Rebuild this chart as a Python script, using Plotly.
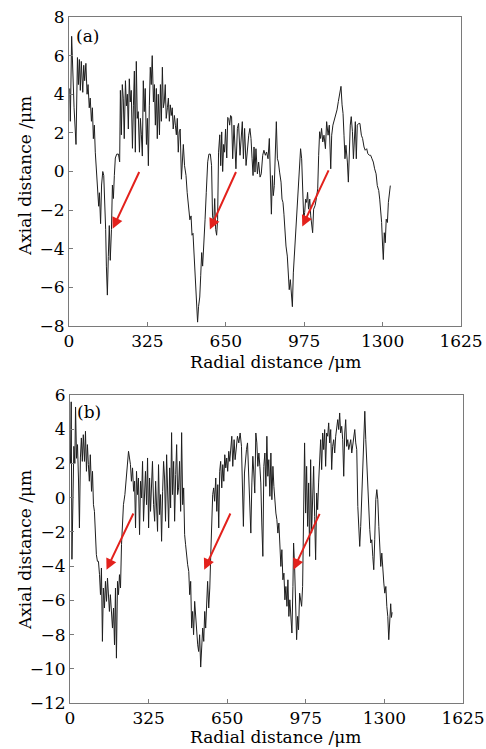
import plotly.graph_objects as go

# ---------------- data ----------------
x_ticks = [0, 325, 650, 975, 1300, 1625]
x_tick_text = ["0", "325", "650", "975", "1300", "1625"]
top_y_ticks = [-8, -6, -4, -2, 0, 2, 4, 6, 8]
bot_y_ticks = [-12, -10, -8, -6, -4, -2, 0, 2, 4, 6]

# panel (a): radial distance (um) and axial distance (um)
top_x_a = [3, 5.5, 11, 15, 21, 29, 35, 39, 43, 47,
           51, 57, 61, 65, 70, 75, 79, 84, 88, 93,
           97, 101, 105, 109, 115, 119, 123, 126, 128, 131,
           135, 140, 144, 148, 152, 155, 159, 163, 167, 171,
           176, 180, 184, 188, 192, 198, 205, 210, 213, 217,
           221, 225, 229, 234, 238, 242, 246, 250, 254, 258,
           263, 267, 271, 275, 279, 283, 287, 292, 296, 300,
           304, 308, 312, 316, 321, 325, 329, 333, 337, 341,
           345, 350, 354, 358, 362, 366, 370, 375, 379, 383,
           387, 391, 395, 399, 403, 408, 412, 416, 420, 424,
           428, 432, 437, 441, 445, 449, 453, 457, 461, 466,
           470, 474, 479, 485, 490, 496, 501, 506, 510, 514,
           518, 522, 526, 529, 533, 537, 542, 546, 550, 554,
           558, 564, 569, 575, 580, 586, 591, 595, 600, 604,
           608, 612, 616, 620, 625, 629, 633, 637, 641, 645,
           649, 654, 658, 662, 666, 670]
top_y_a = [4.3, 2.6, 7.0, 5.4, 3.3, 1.4, 5.9, 4.5, 5.8, 4.2,
           5.7, 4.1, 5.5, 4.7, 5.6, 4.0, 4.5, 3.3, 3.8, 2.6,
           3.3, 1.7, 2.4, 1.0, 0.0, -0.7, -1.8, -1.1, -2.5, -2.7,
           -0.7, 0.0, -0.2, -1.4, -3.0, -4.9, -6.4, -4.4, -2.8, -4.6,
           -3.0, -0.7, -1.4, -0.2, 0.7, 0.9, 0.9, 0.5, 4.2, 1.9,
           4.5, 3.8, 1.7, 4.7, 3.4, 4.0, 2.2, 4.8, 3.6, 4.2,
           1.2, 3.4, 5.2, 1.0, 5.7, 2.75, 3.1, 1.0, 2.75, 1.9,
           0.8, 4.7, 3.1, 4.3, 1.4, 2.75, 0.3, 3.4, 5.4, 4.5,
           6.0, 3.6, 4.5, 2.4, 4.3, 1.7, 4.0, 1.9, 4.5, 2.6,
           5.4, 3.3, 3.6, 4.5, 2.75, 3.3, 3.8, 2.6, 3.45, 2.9,
           3.3, 2.2, 2.9, 2.4, 1.9, 2.75, 1.0, 2.05, 2.2, -0.4,
           0.8, 1.4, 0.3, -0.2, -1.1, -1.8, -2.5, -2.3, -3.3, -3.2,
           -4.2, -4.6, -5.6, -7.0, -7.8, -7.0, -6.5, -5.4, -4.2, -4.9,
           -3.5, -2.5, -1.1, 0.5, 0.9, 0.9, 0.3, -2.3, -2.65, -1.4,
           -3.0, -3.3, -2.5, 1.0, 1.9, 0.3, 2.05, 0.0, 1.4, 1.0,
           2.2, 0.7, 2.8, 2.75, 2.4, 2.9]

top_x_b = [674, 678.5, 684, 688, 692, 698, 703, 709, 714, 718.5,
           723, 728, 734, 739, 745, 750, 754.5, 759, 763, 767,
           771, 775, 781, 786, 792, 797, 803, 808, 814, 819,
           825, 830.5, 835, 839, 843, 847, 851, 855, 859.5, 864,
           868, 873, 879, 883, 887, 891, 895, 899.5, 905, 909,
           913, 917.5, 922, 926, 930, 934, 938, 942, 946.5, 951,
           955, 960, 964.5, 969, 973, 977, 981, 985, 989, 993,
           998, 1002, 1006, 1010, 1014, 1020, 1025, 1031, 1035, 1039,
           1043, 1047, 1052, 1057, 1063, 1068, 1074, 1079, 1085, 1089,
           1094, 1100, 1105, 1111, 1116.5, 1122, 1127.5, 1132, 1136, 1140,
           1144, 1148, 1154, 1158, 1162, 1166, 1170, 1175, 1179, 1183,
           1187, 1191, 1195, 1201, 1206, 1212, 1217, 1223, 1228, 1234,
           1239, 1245, 1250.5, 1256, 1261.5, 1267, 1273, 1278, 1284, 1288,
           1292, 1296, 1300, 1303, 1307, 1311, 1315, 1320, 1324, 1328,
           1332]
top_y_b = [2.84, 0.66, 2.4, 1.53, 0.14, 2.23, 2.49, 0.84, 1.88, 2.58,
           0.66, 2.23, 0.31, 1.18, 1.88, 2.23, 1.71, 0.66, -0.21, 1.27,
           -0.03, 1.18, -0.12, 0.49, -0.29, -0.12, 0.84, 1.1, 0.84, 1.01,
           0.66, 1.71, -0.38, -2.21, -0.21, -1.25, -0.73, 0.66, 2.58, 0.66,
           0.49, -0.03, -0.55, -1.43, -1.6, -2.21, -3.17, -3.86, -4.38, -5.25,
           -6.12, -5.6, -6.3, -7.0, -5.25, -4.38, -3.17, -2.3, -1.77, -0.21,
           0.66, 1.18, 0.66, -1.08, -2.47, -2.12, -1.43, -1.6, -1.08, -1.95,
           -1.43, -2.3, -2.64, -3.17, -1.95, -1.77, -1.43, -0.9, 0.84, 2.06,
           1.71, 2.23, 1.53, 1.88, 1.18, 2.58, 1.88, 2.4, 0.14, 1.88,
           2.4, 2.66, 3.01, 3.19, 3.62, 4.14, 4.41, 3.45, 3.01, 1.88,
           0.66, 1.36, 0.49, -0.55, 1.53, 2.4, 2.84, 2.06, 0.66, 2.23,
           2.58, 0.66, 2.4, 2.49, 2.49, 1.88, 1.71, 1.27, 1.1, 1.18,
           0.92, 0.84, 0.84, 0.66, 0.49, 0.14, -0.12, -0.73, -0.99, -1.43,
           -1.95, -2.64, -3.86, -4.56, -3.17, -3.69, -2.47, -2.64, -1.6, -1.08,
           -0.73]

# panel (b)
bot_x_a = [2, 5, 8, 12, 16, 20, 23, 27, 31, 35,
           39, 43, 47, 51, 55, 60, 64, 68, 72, 76,
           80, 84, 89, 93, 97, 101, 105, 109, 113.5, 117.6,
           122, 126, 130, 134, 138, 142.5, 146.6, 151, 155, 159,
           163, 167, 171.5, 175.6, 180, 184, 188, 192, 196.4, 200.5,
           204.6, 208.8, 213, 217, 221, 227, 232, 238, 242, 246,
           250, 254, 258.5, 263, 267, 271, 275, 279, 283, 287.6,
           291.7, 296, 300, 304, 308, 312, 316.6, 320.7, 325, 329,
           333, 337, 341, 345.6, 350, 354, 358, 362, 366, 370.5,
           374.6, 378.7, 383, 387, 391, 395, 399.5, 403.6, 408, 412,
           416, 420, 424, 428.5, 432.6, 437, 441, 445, 449, 453,
           457.5, 461.6, 466, 470, 474, 478, 482, 486.5, 491, 495,
           499, 503, 507, 511, 515.5, 520, 524, 528, 532, 536,
           540.4, 544.6, 548.7, 553, 557, 561, 565, 569, 573.6, 578,
           582, 586, 590, 594, 598, 602.6, 607, 611, 615, 619,
           623, 627.5, 631.6, 636, 640, 644, 648, 652, 656.5, 660.6,
           664.8]
bot_y_a = [2.0, 5.6, -3.6, 1.0, 3.0, 2.0, 5.3, 2.3, 3.1, 1.15,
           -1.77, 2.32, 3.49, 2.12, 3.68, 2.12, 3.88, 1.54, 3.1, 1.93,
           0.96, 2.51, 0.37, 1.54, -0.41, -0.8, -2.16, -3.33, -3.72, -3.72,
           -4.5, -5.67, -4.11, -8.4, -5.28, -6.45, -4.89, -6.06, -4.7, -5.87,
           -6.65, -5.67, -6.45, -7.62, -6.45, -8.6, -5.28, -9.38, -4.89, -5.67,
           -4.5, -5.28, -2.75, -1.38, -0.41, 0.18, 1.15, 2.12, 2.71, 2.32,
           1.93, 0.96, 1.74, 0.37, 0.96, -1.77, 1.54, 0.18, 1.15, -2.16,
           0.96, -0.02, 2.12, -1.38, 0.76, 1.54, -0.41, 2.32, -1.77, 1.15,
           -0.8, 0.57, 2.12, -0.41, -1.38, 0.96, -0.6, -1.97, 1.93, -0.99,
           0.18, -2.55, 0.37, 2.12, 1.15, -1.38, 2.51, 0.18, -1.77, 1.74,
           -0.6, 3.8, 0.18, 2.12, -1.38, 1.35, 3.1, 0.18, 0.57, 2.12,
           -0.8, 3.8, -0.41, 0.57, -2.16, -2.75, -3.53, -3.92, -4.31, -5.67,
           -4.89, -7.62, -6.65, -8.01, -6.06, -7.23, -8.01, -8.6, -8.99, -8.01,
           -9.9, -8.79, -7.62, -8.4, -6.65, -7.62, -5.87, -4.89, -6.45, -5.28,
           -3.33, -1.38, 0.18, 0.57, -0.21, 1.15, -0.8, 0.76, -1.77, 1.54,
           2.12, 0.57, 1.93, 0.96, 2.51, 1.74, 2.32, 1.54, 2.71, 2.12,
           3.1]

bot_x_b = [669, 673, 678.6, 682.7, 687, 692.4, 698, 703.5, 709, 713,
           717, 721.4, 725.6, 729.7, 734, 738, 742, 747.7, 752, 756,
           760, 764, 768.4, 772.5, 776.7, 781, 785, 789, 793, 797.4,
           801.5, 805.7, 810, 814, 818, 822, 826.4, 830.6, 834.7, 839,
           843, 847, 851.3, 855.4, 859.6, 863.7, 868, 872, 876, 880.3,
           884.5, 888.6, 892.7, 897, 901, 905, 909, 913.5, 917.6, 921.8,
           924.5, 928.7, 932.8, 937, 941, 945, 949.4, 953.5, 957.7, 961.8,
           966, 970, 974.3, 978.4, 982.5, 986.7, 990.8, 995, 999, 1003.3,
           1007.4, 1011.6, 1015.7, 1020, 1024, 1028, 1032.3, 1036.4, 1040.6, 1044.7,
           1049, 1053, 1057, 1061.3, 1065.5, 1069.6, 1073.7, 1078, 1082, 1086,
           1090.3, 1094.5, 1098.6, 1102.8, 1107, 1111, 1115, 1119, 1123.5, 1127.6,
           1131.8, 1136, 1140, 1144, 1148.4, 1152.5, 1156.6, 1160.8, 1165, 1169,
           1173, 1177.4, 1181.5, 1185.7, 1190, 1194, 1198, 1202, 1206.4, 1210.5,
           1214.7, 1219, 1223, 1227, 1231, 1235.4, 1239.5, 1243.7, 1248, 1252,
           1256, 1260, 1264.4, 1268.6, 1272.7, 1277, 1281, 1285, 1289.3, 1293.4,
           1297.6, 1301.7, 1306, 1310, 1314, 1318, 1322, 1326, 1329, 1332]
bot_y_b = [3.59, 1.83, 3.39, 2.22, 3.0, 3.59, 3.2, 3.78, 3.0, 0.86,
           -1.68, 1.44, 2.22, 2.81, 3.2, 1.83, -0.51, -2.07, 0.86, 2.42,
           1.44, 0.27, 3.78, 3.2, 1.83, 2.61, 1.83, 0.86, -1.48, -3.43,
           1.83, 2.61, 0.66, 3.59, 1.25, 2.22, 0.08, 2.61, -0.12, 1.83,
           0.66, -0.31, -0.9, -1.29, -2.07, -1.48, -2.46, -4.02, -3.04, -4.8,
           -4.41, -5.97, -5.19, -6.35, -4.8, -6.94, -5.97, -7.52, -7.91, -5.19,
           -2.65, -4.02, -6.74, -8.3, -6.94, -7.72, -5.58, -5.97, -6.35, -5.19,
           -0.12, 3.2, -0.9, 1.83, -1.68, 0.86, -3.43, 2.22, -2.07, -0.12,
           1.83, -1.09, -3.63, 0.27, -0.7, 0.86, 1.83, 3.39, 1.64, 3.78,
           2.81, 3.98, 1.83, 3.78, 3.59, 4.37, 3.2, 3.98, 1.64, 3.0,
           3.39, 2.61, 3.59, 4.17, 4.56, 3.98, 4.95, 3.78, 4.17, 3.39,
           1.25, 3.78, 4.56, 3.0, 3.39, 2.81, 3.2, 3.39, 2.61, 3.0,
           3.59, 3.98, 3.2, 2.81, -0.51, -2.07, -2.85, -1.68, -0.12, 1.83,
           3.78, 5.05, 3.39, 1.83, 0.27, -0.7, -1.87, -2.65, -2.46, -3.43,
           -4.21, -2.46, -0.12, 0.47, -0.12, -1.68, -3.24, -4.02, -3.24, -4.41,
           -4.99, -5.58, -5.19, -6.35, -6.94, -8.3, -7.5, -6.2, -7.0, -6.7]

top_x = top_x_a + top_x_b
top_y = top_y_a + top_y_b
bot_x = bot_x_a + bot_x_b
bot_y = bot_y_a + bot_y_b

# red arrows: (head_x, head_y, tail_x, tail_y) in data units
top_arrows = [(181, -2.96, 294, 0.05), (584, -3.0, 695, 0.05), (967, -2.85, 1079, 0.14)]
bot_arrows = [(151, -4.21, 265, -0.84), (555, -4.21, 666, -0.84), (924, -4.21, 1035, -0.86)]

# ---------------- figure ----------------
W, H = 486, 749
FONT = "DejaVu Serif"
FS = 17
AX = "#7a7a7a"


def px(v):
    return v / W


def py(v):
    return 1 - v / H


fig = go.Figure()
fig.add_trace(go.Scatter(x=top_x, y=top_y, mode="lines", xaxis="x", yaxis="y",
                         line=dict(color="#1e1e1e", width=1), showlegend=False, hoverinfo="skip"))
fig.add_trace(go.Scatter(x=bot_x, y=bot_y, mode="lines", xaxis="x2", yaxis="y2",
                         line=dict(color="#1e1e1e", width=1), showlegend=False, hoverinfo="skip"))

common = dict(showline=True, linecolor=AX, linewidth=1, mirror=True, ticks="inside",
              ticklen=4, tickcolor=AX, tickwidth=1, showgrid=False, zeroline=False,
              automargin=False,
              tickfont=dict(family=FONT, size=FS, color="black"))

fig.update_layout(
    width=W, height=H, margin=dict(l=0, r=0, t=0, b=0, autoexpand=False),
    paper_bgcolor="white", plot_bgcolor="white",
    xaxis=dict(domain=[px(69), px(461)], range=[0, 1625], tickvals=x_ticks,
               ticktext=x_tick_text, anchor="y", **common),
    yaxis=dict(domain=[py(326), py(17)], range=[-8, 8], tickvals=top_y_ticks,
               anchor="x", **common),
    xaxis2=dict(domain=[px(70), px(463)], range=[0, 1625], tickvals=x_ticks,
                ticktext=x_tick_text, anchor="y2", **common),
    yaxis2=dict(domain=[py(703), py(395)], range=[-12, 6], tickvals=bot_y_ticks,
                anchor="x2", **common),
)

annos = []
tf = dict(family=FONT, size=FS, color="black")
for yc in (362, 737):
    annos.append(dict(text="Radial distance /\u03bcm", x=px(275), y=py(yc), xref="paper", yref="paper",
                      showarrow=False, font=tf, xanchor="center", yanchor="middle"))
for yc in (176, 550):
    annos.append(dict(text="Axial distance /\u03bcm", x=px(25), y=py(yc), xref="paper", yref="paper",
                      showarrow=False, font=tf, textangle=-90, xanchor="center", yanchor="middle"))
annos.append(dict(text="(a)", x=px(87), y=py(35.5), xref="paper", yref="paper", showarrow=False,
                  font=tf, xanchor="center", yanchor="middle"))
annos.append(dict(text="(b)", x=px(88.5), y=py(411.5), xref="paper", yref="paper", showarrow=False,
                  font=tf, xanchor="center", yanchor="middle"))

RED = "#e3211c"
for (hx, hy, tx, ty) in top_arrows:
    annos.append(dict(x=hx, y=hy, ax=tx, ay=ty, xref="x", yref="y", axref="x", ayref="y",
                      text="", showarrow=True, arrowhead=2, arrowsize=1.1, arrowwidth=2,
                      arrowcolor=RED))
for (hx, hy, tx, ty) in bot_arrows:
    annos.append(dict(x=hx, y=hy, ax=tx, ay=ty, xref="x2", yref="y2", axref="x2", ayref="y2",
                      text="", showarrow=True, arrowhead=2, arrowsize=1.1, arrowwidth=2,
                      arrowcolor=RED))
fig.update_layout(annotations=annos)

fig.write_html("out.html", config={"displayModeBar": False},
               post_script="document.body.style.margin='0';document.body.style.padding='0';")
